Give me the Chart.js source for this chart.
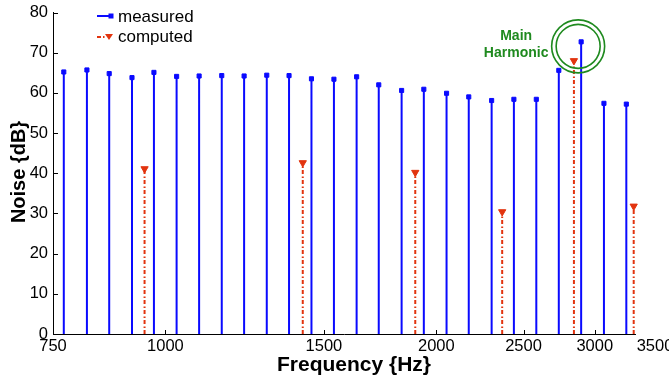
<!DOCTYPE html>
<html><head><meta charset="utf-8">
<script src="https://cdn.jsdelivr.net/npm/chart.js@4"></script>
<style>html,body{margin:0;padding:0;background:#fff;overflow:hidden}#wrap{width:669px;height:381px;position:relative}</style>
</head><body><div id="wrap"><canvas id="c" width="669" height="381"></canvas></div>
<script>
// ---- data ----
const measuredFreq = [771, 818, 866, 918, 971, 1029, 1090, 1155, 1223, 1296, 1372, 1453, 1539, 1631, 1726, 1830, 1937, 2053, 2173, 2304, 2439, 2583, 2736, 2897, 3071, 3252];
const measuredDb   = [65.2, 65.7, 64.8, 63.8, 65.1, 64.1, 64.2, 64.3, 64.2, 64.4, 64.3, 63.5, 63.4, 64.0, 62.0, 60.6, 60.9, 59.9, 59.0, 58.1, 58.4, 58.4, 65.6, 72.7, 57.4, 57.2];
const computedFreq = [948, 1421, 1895, 2367, 2844, 3314];
const computedDb   = [41.1, 42.6, 40.2, 30.4, 68.0, 31.8];
const xTickValues  = [750, 1000, 1500, 2000, 2500, 3000, 3500];
const yTickValues  = [0, 10, 20, 30, 40, 50, 60, 70, 80];
const seriesNames  = ['measured', 'computed'];
const xTitle = 'Frequency {Hz}';
const yTitle = 'Noise {dB}';
const noteLines = ['Main', 'Harmonic'];

const BLUE = '#0a0aff', RED = '#e2340f', GREEN = '#1f8a1f';
const FONT = '"Liberation Sans", Arial, Helvetica, sans-serif';
const RED_DASH = [4, 2, 1.5, 2.5];

function stems(xs, ys) {
  const out = [];
  xs.forEach((x, i) => { out.push({x: x, y: 0}, {x: x, y: ys[i]}, {x: x, y: null}); });
  return out;
}

const decor = {
  id: 'decor',
  afterDraw(chart) {
    const {ctx, scales: {x, y}, chartArea: a} = chart;
    ctx.save();
    // inward tick marks (MATLAB style)
    ctx.strokeStyle = '#000'; ctx.lineWidth = 1;
    yTickValues.forEach(v => {
      const py = Math.round(y.getPixelForValue(v)) + 0.5;
      ctx.beginPath(); ctx.moveTo(a.left, py); ctx.lineTo(a.left + 5, py); ctx.stroke();
    });
    xTickValues.forEach(v => {
      if (v <= x.min || v > x.max) return;
      const px = Math.round(x.getPixelForValue(v)) + 0.5;
      ctx.beginPath(); ctx.moveTo(px, a.bottom); ctx.lineTo(px, a.bottom - 4); ctx.stroke();
    });
    // axis titles
    ctx.fillStyle = '#000';
    ctx.font = 'bold 21px ' + FONT;
    ctx.textAlign = 'center'; ctx.textBaseline = 'alphabetic';
    ctx.fillText(xTitle, 354, 371);
    ctx.save();
    ctx.translate(25, 172); ctx.rotate(-Math.PI / 2);
    ctx.font = 'bold 20px ' + FONT;
    ctx.fillText(yTitle, 0, 0);
    ctx.restore();
    // legend
    ctx.font = '17px ' + FONT; ctx.textAlign = 'left'; ctx.fillStyle = '#000';
    ctx.strokeStyle = BLUE; ctx.lineWidth = 2;
    ctx.beginPath(); ctx.moveTo(97, 16); ctx.lineTo(111, 16); ctx.stroke();
    ctx.fillStyle = BLUE; ctx.fillRect(108.5, 13.5, 5, 5);
    ctx.fillStyle = '#000'; ctx.fillText(seriesNames[0], 118, 22);
    ctx.strokeStyle = RED; ctx.setLineDash(RED_DASH);
    ctx.beginPath(); ctx.moveTo(97, 37); ctx.lineTo(106, 37); ctx.stroke();
    ctx.setLineDash([]);
    ctx.fillStyle = RED;
    ctx.beginPath(); ctx.moveTo(105, 34); ctx.lineTo(113, 34); ctx.lineTo(109, 40); ctx.closePath(); ctx.fill();
    ctx.fillStyle = '#000'; ctx.fillText(seriesNames[1], 118, 42);
    // main harmonic annotation, anchored on the main measured peak
    const peakIdx = measuredDb.indexOf(Math.max(...measuredDb));
    const cx = x.getPixelForValue(measuredFreq[peakIdx]) - 3;
    const cy = y.getPixelForValue(measuredDb[peakIdx]) + 4.5;
    ctx.strokeStyle = GREEN; ctx.lineWidth = 1.6;
    ctx.beginPath(); ctx.arc(cx, cy, 26.5, 0, Math.PI * 2); ctx.stroke();
    ctx.beginPath(); ctx.arc(cx, cy, 22, 0, Math.PI * 2); ctx.stroke();
    ctx.fillStyle = GREEN; ctx.font = 'bold 14px ' + FONT; ctx.textAlign = 'center';
    ctx.fillText(noteLines[0], cx - 62, cy - 6);
    ctx.fillText(noteLines[1], cx - 62, cy + 11);
    ctx.restore();
  }
};

new Chart(document.getElementById('c'), {
  type: 'line',
  data: {
    datasets: [
      {
        label: seriesNames[0],
        data: stems(measuredFreq, measuredDb),
        borderColor: BLUE, backgroundColor: BLUE, borderWidth: 2,
        spanGaps: false, tension: 0, clip: false,
        pointStyle: 'rect', pointBorderWidth: 1, pointBorderColor: BLUE, pointBackgroundColor: BLUE,
        pointRadius: c => (c.dataIndex % 3 === 1 ? 2.9 : 0), pointHoverRadius: 0
      },
      {
        label: seriesNames[1],
        data: stems(computedFreq, computedDb),
        borderColor: RED, backgroundColor: RED, borderWidth: 2, borderDash: RED_DASH,
        spanGaps: false, tension: 0, clip: false,
        pointStyle: 'triangle', pointRotation: 180, pointBorderWidth: 1, pointBorderColor: RED, pointBackgroundColor: RED,
        pointRadius: c => (c.dataIndex % 3 === 1 ? 4.2 : 0), pointHoverRadius: 0
      }
    ]
  },
  options: {
    responsive: false, animation: false, devicePixelRatio: 1,
    layout: {padding: {left: 0, right: 34, top: 12.5, bottom: 0}},
    plugins: {legend: {display: false}, tooltip: {enabled: false}},
    events: [],
    scales: {
      x: {
        type: 'logarithmic', min: 750, max: 3325,
        afterBuildTicks: s => { s.ticks = xTickValues.map(v => ({value: v})); },
        afterFit: s => { s.height = 47; s.paddingLeft = 0; s.paddingRight = 0; },
        grid: {display: true, drawOnChartArea: false, drawTicks: false},
        border: {display: true, color: '#000', width: 1},
        ticks: {autoSkip: false, maxRotation: 0, padding: 3, color: '#000',
                font: {family: FONT, size: 16.5}, callback: v => String(v)}
      },
      y: {
        type: 'linear', min: 0, max: 80,
        afterBuildTicks: s => { s.ticks = yTickValues.map(v => ({value: v})); },
        afterFit: s => { s.width = 53; s.paddingTop = 0; s.paddingBottom = 0; },
        grid: {display: true, drawOnChartArea: false, drawTicks: false},
        border: {display: true, color: '#000', width: 1},
        ticks: {padding: 5, color: '#000', font: {family: FONT, size: 16.5}}
      }
    }
  },
  plugins: [decor]
});
</script>
</body></html>
